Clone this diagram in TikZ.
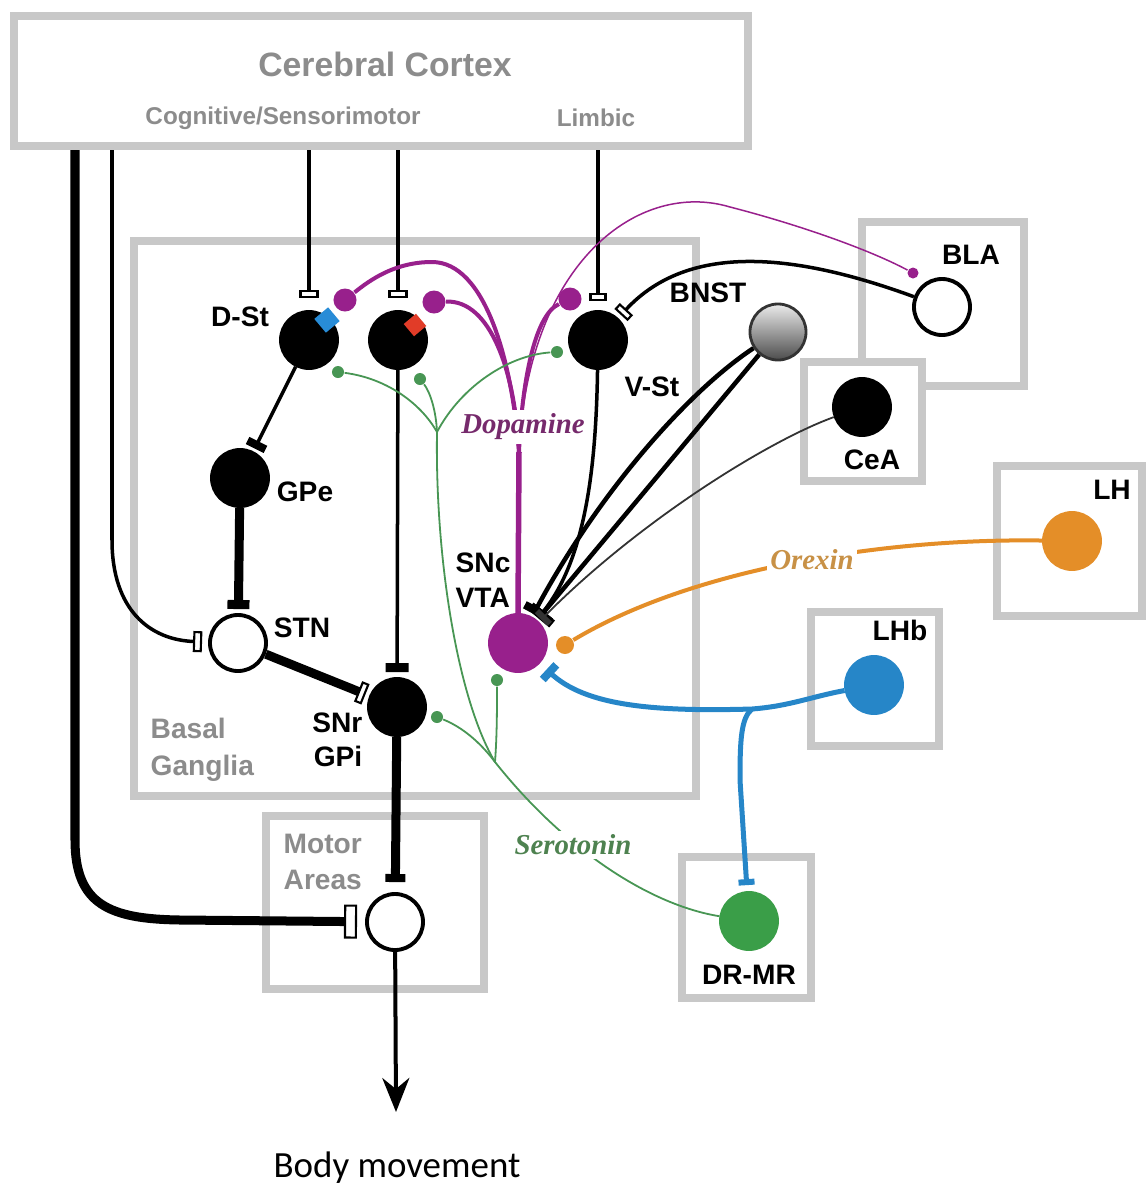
\documentclass[tikz,border=0pt]{standalone}
\usepackage{fontspec}
\setmainfont{Liberation Sans}
\newfontfamily\transmitterfont{Liberation Serif}
\newfontfamily\captionfont{Carlito}
\usetikzlibrary{arrows.meta}

\definecolor{regiongray}{RGB}{200,200,200}
\definecolor{regiontext}{RGB}{140,140,140}
\definecolor{dopacol}{RGB}{152,32,140}
\definecolor{dopatext}{RGB}{118,42,108}
\definecolor{serocol}{RGB}{72,150,84}
\definecolor{serotext}{RGB}{78,130,80}
\definecolor{orexcol}{RGB}{228,142,40}
\definecolor{orextext}{RGB}{200,145,70}
\definecolor{habcol}{RGB}{38,134,200}
\definecolor{raphecol}{RGB}{58,158,72}
\definecolor{dmdblue}{RGB}{40,140,215}
\definecolor{dmdred}{RGB}{225,60,40}

\tikzset{
    region/.style={draw=regiongray, line width=0.085cm, fill=white, inner sep=0pt},
    cell/.style={circle, draw=black, line width=1.1pt, minimum size=0.56cm, inner sep=0pt},
    nucleus/.style={font=\bfseries\fontsize{8}{9.8}\selectfont, inner sep=0pt},
    arealabel/.style={font=\bfseries\fontsize{8}{10.4}\selectfont, text=regiontext, inner sep=0pt, align=left},
    transmitter/.style={font=\transmitterfont\bfseries\itshape\fontsize{8.2}{9}\selectfont, fill=white, inner sep=1pt},
    wire/.style={line width=0.035cm},
    heavy/.style={line width=0.09cm},
    fbar/.style 2 args={-{Rectangle[length=#1, width=#2]}},
    obar/.style 2 args={-{Rectangle[open, length=#1, width=#2, line width=0.6pt]}},
    sdot/.style={circle, fill=serocol, minimum size=0.12cm, inner sep=0pt},
    ddot/.style={circle, fill=dopacol, minimum size=0.23cm, inner sep=0pt},
    dopaline/.style={draw=dopacol, line width=0.04cm},
    seroline/.style={draw=serocol, line width=0.018cm},
    orexline/.style={draw=orexcol, line width=0.04cm},
    habline/.style={draw=habcol, line width=0.05cm}
}

\begin{document}
\begin{tikzpicture}[x=0.01cm, y=-0.01cm]
    \useasboundingbox (0,0) rectangle (1146,1187);

    % Regions
    \node[region, minimum width=7.34cm, minimum height=1.30cm] (cortex) at (381,81) {};
    \node[region, minimum width=5.62cm, minimum height=5.55cm] (basal) at (415,518.5) {};
    \node[region, minimum width=2.18cm, minimum height=1.73cm] (motorbox) at (375,902.5) {};
    \node[region, minimum width=1.62cm, minimum height=1.64cm] (blabox) at (943,304) {};
    \node[region, minimum width=1.18cm, minimum height=1.19cm] (ceabox) at (863,421.5) {};
    \node[region, minimum width=1.45cm, minimum height=1.50cm] (lhbox) at (1069.5,541) {};
    \node[region, minimum width=1.28cm, minimum height=1.34cm] (lhbbox) at (875,679) {};
    \node[region, minimum width=1.29cm, minimum height=1.41cm] (drbox) at (746.5,927.5) {};

    % Region labels
    \node[font=\bfseries\fontsize{9.6}{11}\selectfont, text=regiontext] (ctxtitle) at (385,64) {Cerebral Cortex};
    \node[font=\bfseries\fontsize{6.9}{8}\selectfont, text=regiontext] (ctxcog) at (283,118) {Cognitive/Sensorimotor};
    \node[font=\bfseries\fontsize{6.9}{8}\selectfont, text=regiontext] (ctxlim) at (596,118) {Limbic};
    \node[arealabel, anchor=west] (bglbl) at (150,750) {Basal\\Ganglia};
    \node[arealabel, anchor=west] (motlbl) at (283,862) {Motor\\Areas};

    % Cells
    \node[cell, fill=black] (dst1) at (309,340) {};
    \node[cell, fill=black] (dst2) at (398,340) {};
    \node[cell, fill=black] (vst) at (598,340) {};
    \node[cell, fill=black] (gpe) at (240,478) {};
    \node[cell, fill=white] (stn) at (238,643) {};
    \node[cell, fill=black] (snr) at (397,707) {};
    \node[cell, draw=dopacol, fill=dopacol] (snc) at (518,643) {};
    \node[cell, fill=white] (motor) at (395,922) {};
    \node[cell, draw=black!80, line width=0.8pt, top color=black!8, bottom color=black!70] (bnst) at (778,332) {};
    \node[cell, fill=white] (bla) at (942,307) {};
    \node[cell, fill=black] (cea) at (862,407) {};
    \node[cell, draw=orexcol, fill=orexcol] (lh) at (1072,541) {};
    \node[cell, draw=habcol, fill=habcol] (lhb) at (874,685) {};
    \node[cell, draw=raphecol, fill=raphecol] (drmr) at (749,921) {};

    % Receptor marks on D-St cells
    \node[fill=dmdblue, rotate=40, minimum size=0.18cm, inner sep=0pt] (d1rec) at (327,320) {};
    \node[fill=dmdred, rotate=40, minimum size=0.16cm, inner sep=0pt] (d2rec) at (415,325) {};

    % Cell labels
    \node[nucleus] (dstlbl) at (240,317) {D-St};
    \node[nucleus] (vstlbl) at (652,387) {V-St};
    \node[nucleus] (bnstlbl) at (708,293) {BNST};
    \node[nucleus] (gpelbl) at (305,492) {GPe};
    \node[nucleus] (stnlbl) at (302,628) {STN};
    \node[nucleus, align=right, anchor=east] (snrlbl) at (363,740) {SNr\\GPi};
    \node[nucleus, align=left, anchor=west] (snclbl) at (455,580) {SNc\\VTA};
    \node[nucleus] (blalbl) at (971,255) {BLA};
    \node[nucleus] (cealbl) at (872,460) {CeA};
    \node[nucleus] (lhlbl) at (1112,490) {LH};
    \node[nucleus] (lhblbl) at (900,630) {LHb};
    \node[nucleus] (drmrlbl) at (749,975) {DR-MR};

    % Synaptic dots
    \node[ddot] (m1) at (345,300) {};
    \node[ddot] (m2) at (434,302) {};
    \node[ddot] (m3) at (570,299) {};
    \node[ddot, minimum size=0.11cm] (m4) at (913,273) {};
    \node[sdot] (s1) at (338,372) {};
    \node[sdot] (s2) at (420,379) {};
    \node[sdot] (s3) at (557,352) {};
    \node[sdot] (s4) at (497,680) {};
    \node[sdot] (s5) at (437,717) {};
    \node[circle, fill=orexcol, minimum size=0.18cm, inner sep=0pt] (o1) at (565,645) {};

    % Branch points
    \coordinate (ctxA) at (75,150);
    \coordinate (ctxB) at (112,150);
    \coordinate (dtop) at (519,452);
    \coordinate (sroot) at (437,432);
    \coordinate (smid) at (495,762);
    \coordinate (hbsplit) at (752,709);
    \coordinate (moveEnd) at (396,1112);

    % Cortical inputs
    \draw[wire, obar={0.08cm}{0.19cm}, shorten >=0.12cm] (cortex.south -| dst1) -- (dst1);
    \draw[wire, obar={0.08cm}{0.19cm}, shorten >=0.12cm] (cortex.south -| dst2) -- (dst2);
    \draw[wire, obar={0.08cm}{0.17cm}, shorten >=0.09cm] (cortex.south -| vst) -- (vst);
    \draw[wire, obar={0.09cm}{0.21cm}, shorten >=0.06cm] (ctxB) -- (112,540) .. controls (112,610) and (150,640) .. (stn);
    \draw[heavy, obar={0.13cm}{0.34cm}, shorten >=0.08cm] (ctxA) -- (75,840) .. controls (75,905) and (110,919) .. (180,920) -- (motor);

    % Basal ganglia loop
    \draw[wire, fbar={0.08cm}{0.2cm}, shorten >=0.03cm] (dst1) -- (gpe);
    \draw[heavy, fbar={0.09cm}{0.22cm}, shorten >=0.04cm] (gpe) -- (stn);
    \draw[heavy, obar={0.08cm}{0.22cm}, shorten >=0.04cm] (stn) -- (snr);
    \draw[wire, fbar={0.09cm}{0.23cm}, shorten >=0.05cm] (dst2) -- (snr);
    \draw[heavy, fbar={0.08cm}{0.2cm}, shorten >=0.1cm] (snr) -- (motor);
    \draw[wire, line width=0.04cm, -{Stealth[length=0.34cm, width=0.27cm]}] (motor) -- (moveEnd);

    % Amygdala and BNST
    \draw[wire, obar={0.08cm}{0.18cm}, shorten >=0.04cm] (bla) .. controls (800,255) and (690,240) .. (vst);
    \draw[wire, fbar={0.08cm}{0.24cm}, shorten >=0.03cm] (vst) .. controls (596,470) and (585,560) .. (snc);
    \draw[line width=0.045cm, fbar={0.08cm}{0.24cm}, shorten >=0.03cm] (bnst) .. controls (690,390) and (600,490) .. (snc);
    \draw[line width=0.045cm, -{Rectangle[open, length=0.09cm, width=0.28cm, line width=0.9pt]}, shorten >=0.02cm] (bnst) -- (snc);
    \draw[line width=0.018cm, black!80, fbar={0.06cm}{0.18cm}, shorten >=0.03cm] (cea) .. controls (770,440) and (640,520) .. (snc);

    % Dopamine
    \draw[dopaline, line width=0.055cm] (snc.north) -- (dtop);
    \draw[dopaline] (dtop) .. controls (512,360) and (485,262) .. (432,262) .. controls (395,262) and (370,280) .. (m1);
    \draw[dopaline] (dtop) .. controls (515,370) and (490,300) .. (m2);
    \draw[dopaline] (dtop) .. controls (522,380) and (535,315) .. (m3);
    \draw[dopaline, line width=0.015cm] (dtop) .. controls (528,260) and (640,180) .. (730,207) .. controls (800,225) and (870,250) .. (m4);
    \node[transmitter, text=dopatext] (dopalbl) at (523,427) {Dopamine};

    % Serotonin
    \draw[seroline] (drmr) .. controls (650,905) and (565,850) .. (smid) .. controls (458,700) and (435,560) .. (sroot);
    \draw[seroline] (smid) .. controls (497,735) and (497,710) .. (s4);
    \draw[seroline] (s5) .. controls (462,727) and (480,742) .. (smid);
    \draw[seroline] (sroot) .. controls (420,402) and (385,378) .. (s1);
    \draw[seroline] (sroot) .. controls (436,410) and (430,392) .. (s2);
    \draw[seroline] (sroot) .. controls (462,385) and (510,355) .. (s3);
    \node[transmitter, text=serotext] (serolbl) at (573,845) {Serotonin};

    % Orexin
    \draw[orexline] (lh) .. controls (880,538) and (690,570) .. (o1);
    \node[transmitter, text=orextext] (orexlbl) at (812,560) {Orexin};

    % Lateral habenula
    \draw[habline, fbar={0.08cm}{0.2cm}, shorten >=0.09cm] (lhb) .. controls (810,697) and (790,706) .. (hbsplit) .. controls (650,712) and (585,705) .. (snc);
    \draw[habline, fbar={0.06cm}{0.16cm}, shorten >=0.06cm] (hbsplit) .. controls (741,718) and (740,740) .. (740,780) -- (drmr);

    % Output
    \node[font=\captionfont\fontsize{10.5}{12}\selectfont] (movelbl) at (397,1168) {Body movement};

\end{tikzpicture}
\end{document}
